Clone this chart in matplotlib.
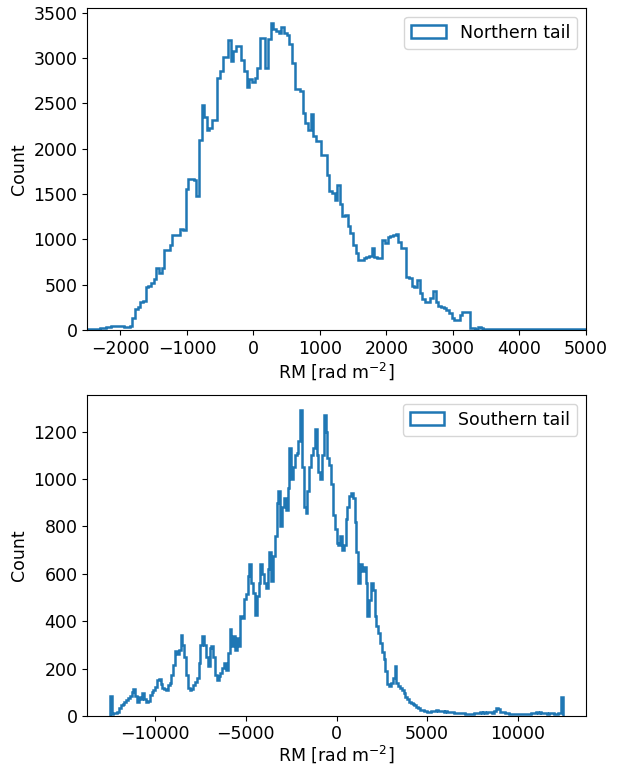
import numpy as np
import matplotlib
matplotlib.use("Agg")
import matplotlib.pyplot as plt

plt.rcParams['font.size'] = 12.5
plt.rcParams['font.family'] = ['DejaVu Sans']

# ---------------- data ----------------
north_label = "Northern tail"
south_label = "Southern tail"
xlabel = r"RM [rad m$^{-2}$]"
ylabel = "Count"

# Northern tail histogram: bin start / width (rad m^-2) and counts
north_bin_start = -2500
north_bin_width = 40
north_counts = [
    8, 8, 10, 10, 12, 18, 20, 35, 38, 44, 45, 44, 43, 45, 38, 36, 40,
    129, 228, 250, 313, 324, 471, 486, 523, 564, 682, 626, 689, 884, 884, 939,
    1050, 1050, 1050, 1112, 1100,
    1555, 1669, 1660, 1658, 1474,
    2092, 2476, 2350, 2203, 2229, 2314, 2314, 2781, 2855, 3014, 3014, 3198, 2966,
    3076, 3131, 3131, 2973, 2855, 2682, 2763, 2733, 2781, 2892, 3215, 3215, 2892,
    3212, 3382, 3316, 3297, 3279, 3345, 3279, 3249, 3150, 2947, 2660, 2660, 2634,
    2395, 2284, 2210, 2383, 2144, 2081, 2081, 1934, 1934, 1713, 1529, 1510, 1437,
    1602, 1392, 1260,
    1271, 1142, 1068, 939, 847, 774, 774, 792, 810, 818, 903, 810, 792, 792, 995,
    965, 1024, 1039, 1050, 1061, 976, 903, 903, 589, 571, 486, 471, 553, 405, 339,
    313, 313, 350, 435, 313, 265, 258, 240, 221, 184, 129, 110, 110, 166, 203, 203,
    203,
    18, 18, 15, 35, 20, 12, 10, 8, 8, 10, 8, 7, 8, 10, 9, 8, 8, 7, 8, 10, 8, 7, 8,
    8, 6, 8, 7, 8, 10, 8, 7, 8, 6, 7, 8, 7, 8, 6, 7, 8, 7, 6, 7, 8,
]

# Southern tail histogram
south_bin_start = -12500
south_bin_width = 100
south_counts = [
    85, 10, 14, 14, 16, 32, 47, 52, 61, 68,
    75, 85, 100, 115, 85, 61, 80, 72, 96, 70,
    61, 65, 89, 103, 110, 124, 150, 155, 135, 117,
    112, 110, 131, 138, 174, 215, 275, 260, 280, 343,
    300, 250, 174, 117, 110, 112, 131, 145, 160, 223,
    300, 336, 300, 251, 209, 287, 294, 251, 174, 153,
    167, 181, 202, 223, 195, 265, 365, 294, 336, 280,
    329, 294, 421, 414, 492, 513, 590, 640, 560, 520,
    425, 506, 560, 640, 600, 560, 540, 620, 690, 570,
    675, 760, 900, 950, 803, 880, 920, 870, 960, 1130,
    1000, 1050, 1100, 1110, 1160, 1290, 1050, 880, 855, 950,
    1050, 1100, 1130, 1210, 1100, 1030, 1000, 1100, 1270, 1200,
    1090, 1060, 980, 850, 790, 730, 720, 760, 700, 720,
    830, 880, 930, 940, 920, 820, 690, 560, 640, 610,
    630, 560, 420, 490, 560, 530, 420, 380, 350, 310,
    270, 240, 190, 135, 125, 140, 160, 210, 140, 125,
    120, 110, 95, 80, 70, 60, 55, 50, 45, 40,
    35, 25, 25, 22, 20, 18, 18, 20, 22, 20,
    24, 22, 20, 22, 18, 20, 18, 16, 18, 15,
    14, 14, 12, 12, 11, 12, 10, 8, 9, 8,
    10, 14, 14, 12, 15, 14, 16, 14, 18, 15,
    16, 14, 22, 32, 28, 18, 16, 15, 12, 11,
    10, 10, 8, 9, 8, 8, 8, 9, 8, 8,
    10, 10, 12, 14, 14, 16, 14, 15, 12, 11,
    11, 10, 11, 11, 12, 10, 10, 11, 12, 82,
]

north_xticks = [-2000, -1000, 0, 1000, 2000, 3000, 4000, 5000]
north_yticks = [0, 500, 1000, 1500, 2000, 2500, 3000, 3500]
south_xticks = [-10000, -5000, 0, 5000, 10000]
south_yticks = [0, 200, 400, 600, 800, 1000, 1200]

# ---------------- plot ----------------
fig = plt.figure(figsize=(6.18, 7.68), dpi=100)
ax1 = fig.add_axes([0.141, 0.5703, 0.807, 0.4193])
ax2 = fig.add_axes([0.141, 0.0677, 0.807, 0.418])

n_edges = north_bin_start + north_bin_width * np.arange(len(north_counts) + 1)
ax1.hist(n_edges[:-1], bins=n_edges, weights=north_counts, histtype='step',
         linewidth=1.8, color='#1f77b4', label=north_label)
ax1.set_xlim(-2500, 5000)
ax1.set_xticks(north_xticks)
ax1.set_yticks(north_yticks)
ax1.set_xlabel(xlabel, labelpad=2)
ax1.set_ylabel(ylabel)
ax1.legend(loc='upper right')

s_edges = south_bin_start + south_bin_width * np.arange(len(south_counts) + 1)
ax2.hist(s_edges[:-1], bins=s_edges, weights=south_counts, histtype='step',
         linewidth=1.8, color='#1f77b4', label=south_label)
ax2.set_xticks(south_xticks)
ax2.set_yticks(south_yticks)
ax2.tick_params(axis='x', pad=3)
ax2.set_xlabel(xlabel, labelpad=0.5)
ax2.set_ylabel(ylabel)
ax2.legend(loc='upper right')

fig.savefig("out.png", dpi=100)
